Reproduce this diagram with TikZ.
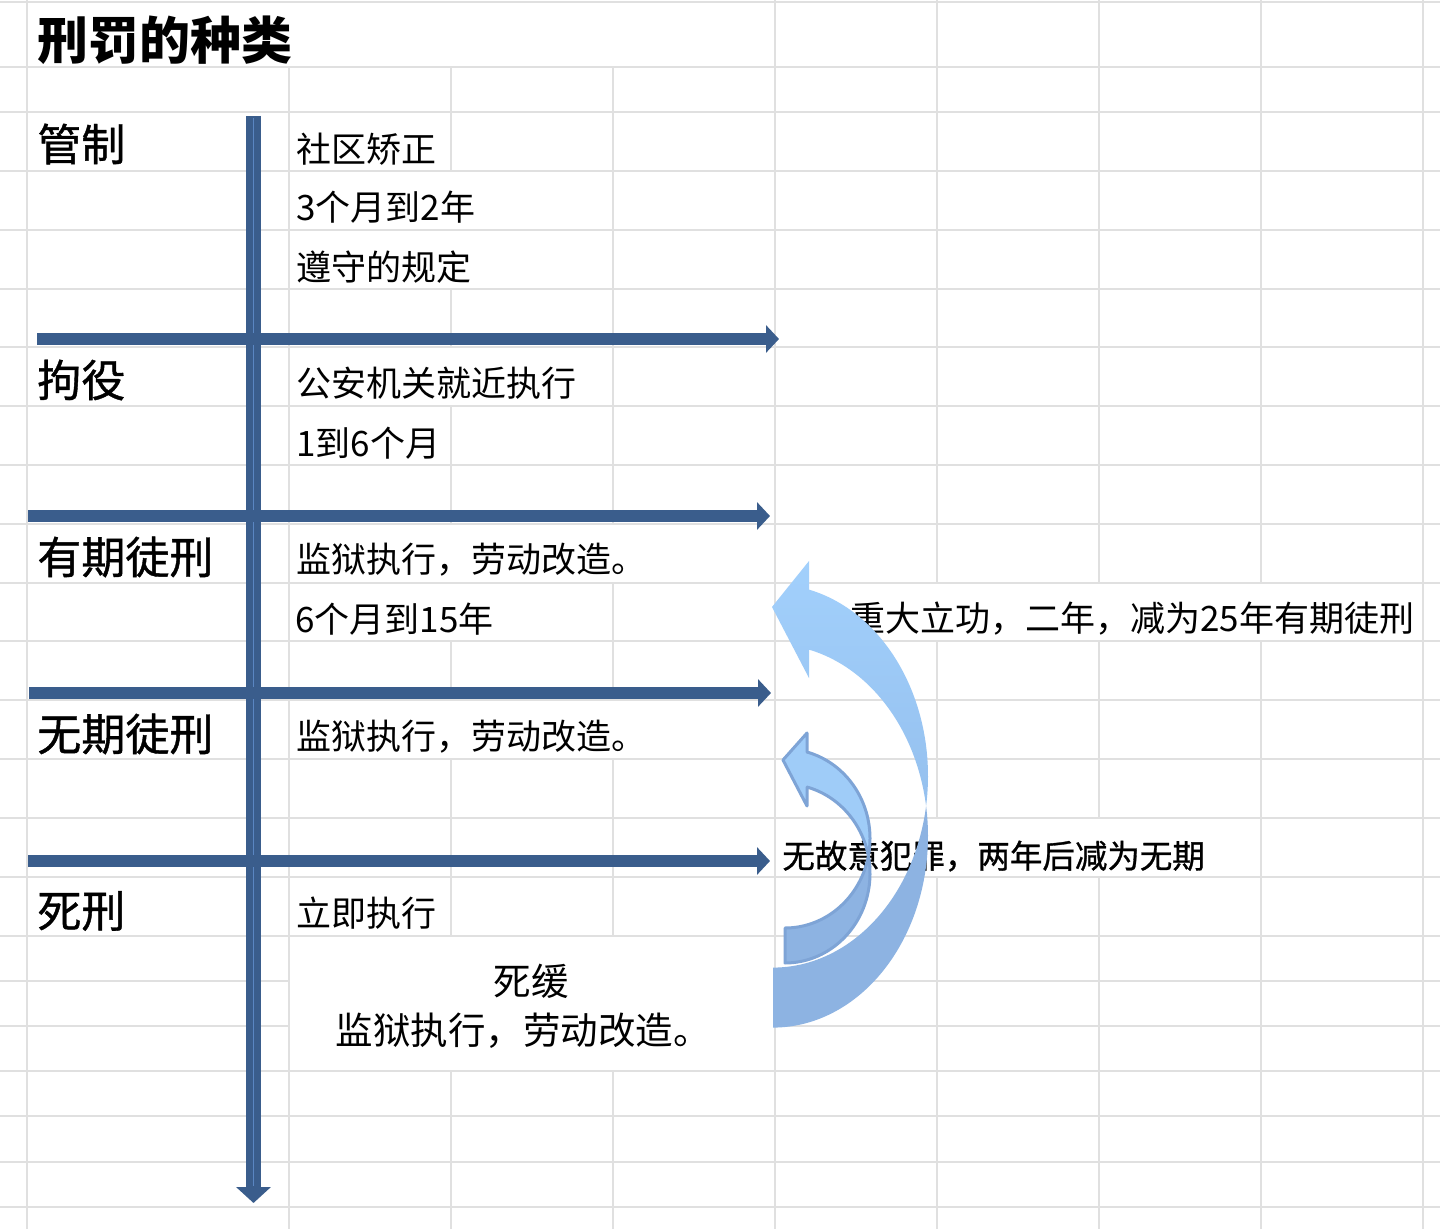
\documentclass[tikz,border=0pt]{standalone}
\usepackage{fontspec}
\setmainfont{Noto Sans CJK SC}
\newfontfamily\cjkmid[FakeBold=0.9]{Noto Sans CJK SC}
\usetikzlibrary{arrows.meta}
\definecolor{gridc}{HTML}{E0E0E0}
\definecolor{arrowblue}{HTML}{3A5D8C}
\definecolor{stripec}{HTML}{5A86C2}
\definecolor{lightA}{HTML}{A2D0FC}
\definecolor{lightM}{HTML}{95C0EE}
\definecolor{lightB}{HTML}{8DB3E2}
\definecolor{smallline}{HTML}{7EA4D6}
\tikzset{
  gridline/.style={gridc, line width=1pt},
  txt/.style={inner sep=0pt, anchor=west, text=black},
  titletxt/.style={txt, font=\fontsize{25.5pt}{30pt}\selectfont\bfseries},
  labtxt/.style={txt, font=\fontsize{22pt}{26pt}\cjkmid\selectfont},
  bodytxt/.style={txt, font=\fontsize{17.5pt}{21pt}\selectfont},
  notetxt/.style={txt, font=\fontsize{16.25pt}{20pt}\cjkmid\selectfont},
  bigtxt/.style={inner sep=0pt, anchor=center, font=\fontsize{18.75pt}{22pt}\selectfont},
  harrow/.style={arrowblue, line width=6.25pt, line cap=butt,
    -{Triangle[length=6.5pt 0 0, width=13.5pt 0 0]}},
  varrow/.style={arrowblue, line width=7.5pt, line cap=butt,
    -{Triangle[length=8pt 0 0, width=17pt 0 0]}}
}
\begin{document}
\begin{tikzpicture}[x=0.5pt,y=-0.5pt]
\useasboundingbox (0,0) rectangle (1440,1229);
\fill[white] (0,0) rectangle (1440,1229);

% ---------- spreadsheet grid ----------
\foreach \yy in {2,67,112,171,230,289,347,406,465,524,583,641,700,759,818,877,936,1071,1116,1162,1207}
  \draw[gridline] (0,\yy) -- (1440,\yy);
\foreach \yy in {981,1026}{
  \draw[gridline] (0,\yy) -- (289,\yy);
  \draw[gridline] (775,\yy) -- (1440,\yy);}
\draw[gridline] (27,0) -- (27,1229);
\draw[gridline] (775,0) -- (775,1229);
\draw[gridline] (1423,0) -- (1423,1229);
\draw[gridline] (289,67) -- (289,1229);
\foreach \a/\b in {67/171,289/347,406/524,641/700,759/936,1071/1229}
  \draw[gridline] (451,\a) -- (451,\b);
\foreach \a/\b in {67/524,583/700,759/936,1071/1229}
  \draw[gridline] (613,\a) -- (613,\b);
\foreach \xx in {937,1099}{
  \foreach \a/\b in {0/583,641/818,877/1229}
    \draw[gridline] (\xx,\a) -- (\xx,\b);}
\foreach \a/\b in {0/583,641/1229}
  \draw[gridline] (1261,\a) -- (1261,\b);

% ---------- texts ----------
\node[titletxt] (title) at (37,40) {刑罚的种类};
\node[labtxt] (lab1) at (37,144) {管制};
\node[labtxt] (lab2) at (37,380) {拘役};
\node[labtxt] (lab3) at (37,557) {有期徒刑};
\node[labtxt] (lab4) at (37,734) {无期徒刑};
\node[labtxt] (lab5) at (37,911) {死刑};

\node[bodytxt] (t11) at (296,149) {社区矫正};
\node[bodytxt] (t12) at (296,207) {3个月到2年};
\node[bodytxt] (t13) at (296,267) {遵守的规定};
\node[bodytxt] (t21) at (296,383) {公安机关就近执行};
\node[bodytxt] (t22) at (296,443) {1到6个月};
\node[bodytxt] (t31) at (296,560) {监狱执行，劳动改造。};
\node[bodytxt] (t32) at (295,619) {6个月到15年};
\node[bodytxt] (t41) at (296,737) {监狱执行，劳动改造。};
\node[bodytxt] (t51) at (296,913) {立即执行};
\node[bigtxt] (sh1) at (531,981) {死缓};
\node[bigtxt] (sh2) at (523,1031) {监狱执行，劳动改造。};

\node[bodytxt] (note1) at (850,619) {重大立功，二年，减为25年有期徒刑};
\node[notetxt] (note2) at (782,856) {无故意犯罪，两年后减为无期};

% ---------- timeline arrows ----------
\coordinate (vtop) at (253.5,116);
\coordinate (vend) at (253.5,1203);
\draw[varrow] (vtop) -- (vend);
\draw[stripec, line width=0.8pt] (253.5,118) -- (253.5,1186);

\coordinate (h1s) at (37,339);  \coordinate (h1e) at (779,339);
\coordinate (h2s) at (28,516);  \coordinate (h2e) at (770,516);
\coordinate (h3s) at (29,693);  \coordinate (h3e) at (771,693);
\coordinate (h4s) at (28,861);  \coordinate (h4e) at (770,861);
\draw[harrow] (h1s) -- (h1e);
\draw[harrow] (h2s) -- (h2e);
\draw[harrow] (h3s) -- (h3e);
\draw[harrow] (h4s) -- (h4e);

% ---------- large curved arrow ----------
\fill[lightB]
  plot[domain=9.01:-90, samples=80, variable=\t] ({773+155*cos(\t)},{836-191.6*sin(\t)})
  -- plot[domain=-90:-9.01, samples=80, variable=\t] ({773+155*cos(\t)},{776-191.6*sin(\t)})
  -- cycle;
\shade[top color=lightA, bottom color=lightM]
  (809,561) -- (772,607) -- (809,678) -- (809,650)
  -- plot[domain=76.57:9.01, samples=80, variable=\t] ({773+155*cos(\t)},{836-191.6*sin(\t)})
  -- plot[domain=-9.01:76.57, samples=80, variable=\t] ({773+155*cos(\t)},{776-191.6*sin(\t)})
  -- cycle;

% ---------- small curved arrow ----------
\filldraw[fill=lightB, draw=smallline, line width=1.5pt, line join=round]
  plot[domain=11.28:-90, samples=60, variable=\t] ({785+85*cos(\t)},{873.5-89.5*sin(\t)})
  -- plot[domain=-90:-11.28, samples=60, variable=\t] ({785+85*cos(\t)},{838.5-89.5*sin(\t)})
  -- cycle;
\filldraw[fill=lightA!85!lightB, draw=smallline, line width=1.5pt, line join=round]
  (807,733) -- (783,760) -- (807,806) -- (807,787)
  -- plot[domain=75:11.28, samples=60, variable=\t] ({785+85*cos(\t)},{873.5-89.5*sin(\t)})
  -- plot[domain=-11.28:75, samples=60, variable=\t] ({785+85*cos(\t)},{838.5-89.5*sin(\t)})
  -- cycle;
\end{tikzpicture}
\end{document}
